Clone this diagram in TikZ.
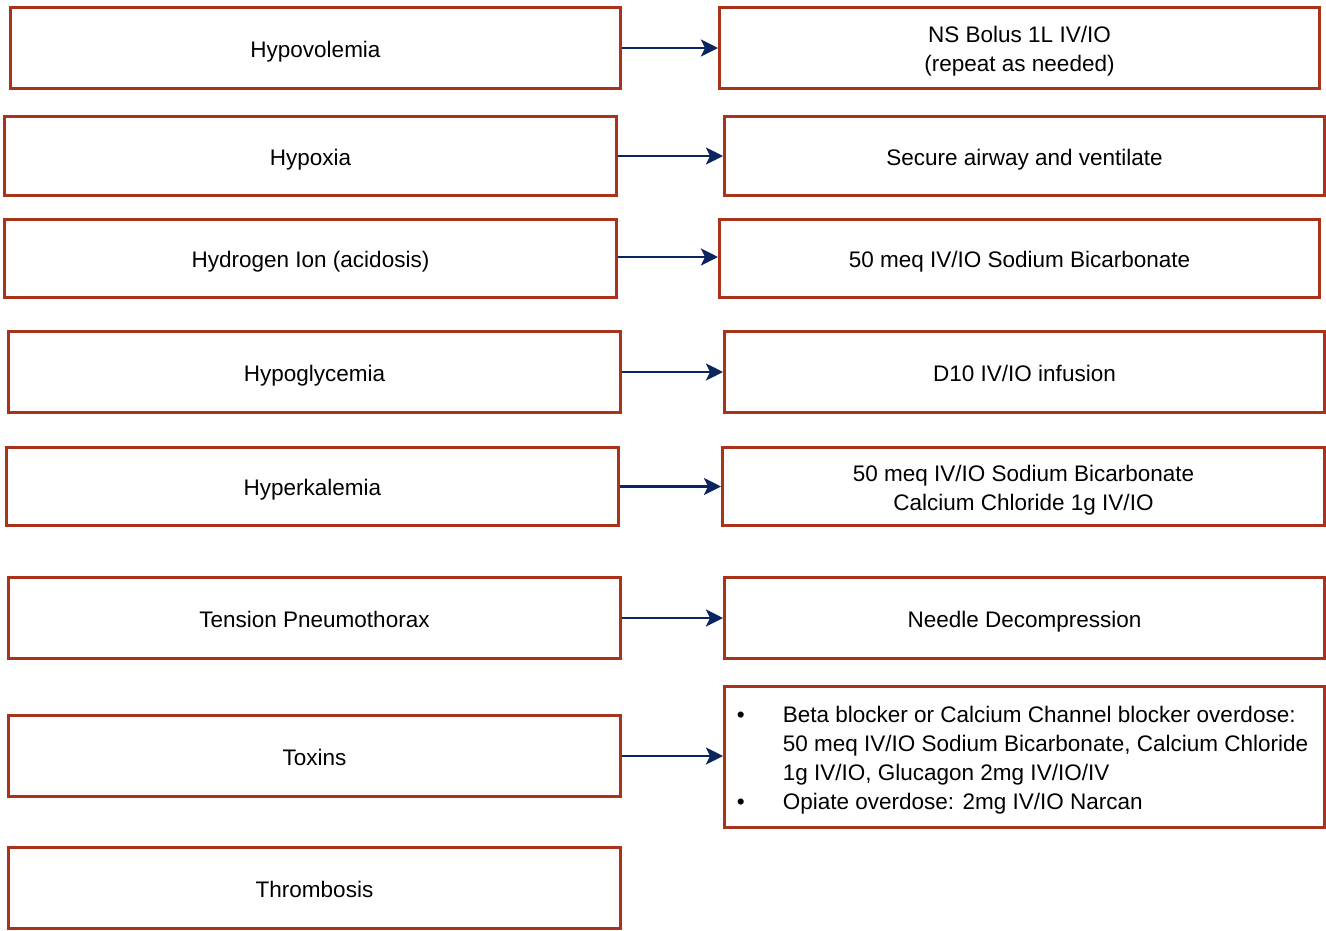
\documentclass[tikz,border=0pt]{standalone}
\usepackage{fontspec}
\setmainfont{Liberation Sans}
\usetikzlibrary{arrows.meta}
\definecolor{boxred}{HTML}{A9321A}
\definecolor{navy}{HTML}{0B2560}
\newcommand\bul{\makebox[42pt][l]{\hspace*{-4pt}\strut•}}
\tikzset{
  box/.style={draw=boxred, line width=3pt, fill=white, inner sep=0pt},
  label text/.style={align=center, inner sep=0pt, yshift=-3.3pt,
    font=\fontsize{22.5}{29}\selectfont, text=black},
  link/.style={draw=navy, line width=2.8pt, -{Stealth[length=17pt,width=17pt,inset=4pt]}},
}
\begin{document}
\begin{tikzpicture}[x=1pt,y=-1pt]
\useasboundingbox (0,0) rectangle (1326,930);
% left column
\node[box, minimum width=610pt, minimum height=81pt] (L1) at (315.5,48) {};
\node[box, minimum width=612pt, minimum height=79pt] (L2) at (310.5,156) {};
\node[box, minimum width=612pt, minimum height=78pt] (L3) at (310.5,258.5) {};
\node[box, minimum width=612pt, minimum height=81pt] (L4) at (314.5,372) {};
\node[box, minimum width=612pt, minimum height=78pt] (L5) at (312.5,486.5) {};
\node[box, minimum width=612pt, minimum height=81pt] (L6) at (314.5,618) {};
\node[box, minimum width=612pt, minimum height=81pt] (L7) at (314.5,756) {};
\node[box, minimum width=612pt, minimum height=81pt] (L8) at (314.5,888) {};
% right column
\node[box, minimum width=600pt, minimum height=81pt] (R1) at (1019.5,48) {};
\node[box, minimum width=600pt, minimum height=79pt] (R2) at (1024.5,156) {};
\node[box, minimum width=600pt, minimum height=78pt] (R3) at (1019.5,258.5) {};
\node[box, minimum width=600pt, minimum height=81pt] (R4) at (1024.5,372) {};
\node[box, minimum width=602pt, minimum height=78pt] (R5) at (1023.5,486.5) {};
\node[box, minimum width=600pt, minimum height=81pt] (R6) at (1024.5,618) {};
\node[box, minimum width=600pt, minimum height=141pt] (R7) at (1024.5,757) {};
% texts
\node[label text] (tL1) at (L1.center) {\strut Hypovolemia};
\node[label text] (tL2) at (L2.center) {\strut Hypoxia};
\node[label text] (tL3) at (L3.center) {\strut Hydrogen Ion (acidosis)};
\node[label text] (tL4) at (L4.center) {\strut Hypoglycemia};
\node[label text] (tL5) at (L5.center) {\strut Hyperkalemia};
\node[label text] (tL6) at (L6.center) {\strut Tension Pneumothorax};
\node[label text] (tL7) at (L7.center) {\strut Toxins};
\node[label text] (tL8) at (L8.center) {\strut Thrombosis};
\node[label text] (tR1) at (R1.center) {\strut NS Bolus 1L IV/IO\\\strut (repeat as needed)};
\node[label text] (tR2) at (R2.center) {\strut Secure airway and ventilate};
\node[label text] (tR3) at (R3.center) {\strut 50 meq IV/IO Sodium Bicarbonate};
\node[label text] (tR4) at (R4.center) {\strut D10 IV/IO infusion};
\node[label text] (tR5) at (R5.center) {\strut 50 meq IV/IO Sodium Bicarbonate\\\strut Calcium Chloride 1g IV/IO};
\node[label text, align=left] (tR7) at (R7.center)
 {\bul Beta blocker or Calcium Channel blocker overdose:\\
  \strut\hspace*{42pt}50 meq IV/IO Sodium Bicarbonate, Calcium Chloride\\
  \strut\hspace*{42pt}1g IV/IO, Glucagon 2mg IV/IO/IV\\
  \bul Opiate overdose: 2mg IV/IO Narcan};
\node[label text] (tR6) at (R6.center) {\strut Needle Decompression};
% connectors
\draw[link] (L1.east) -- (L1.east -| R1.west);
\draw[link] (L2.east) -- (L2.east -| R2.west);
\draw[link] ([yshift=1.5pt]L3.east) -- ([yshift=1.5pt]L3.east -| R3.west);
\draw[link] (L4.east) -- (L4.east -| R4.west);
\draw[link] (L5.east) -- (L5.east -| R5.west);
\draw[link] (L6.east) -- (L6.east -| R6.west);
\draw[link] (L7.east) -- (L7.east -| R7.west);
\end{tikzpicture}
\end{document}
